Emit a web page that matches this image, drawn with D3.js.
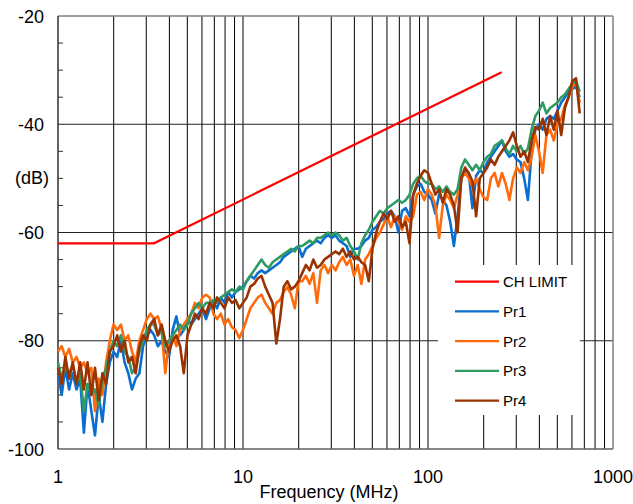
<!DOCTYPE html>
<html><head><meta charset="utf-8">
<script src="https://cdn.jsdelivr.net/npm/d3@7"></script>
<style>
body{margin:0;background:#fff}
svg{display:block}
text{font-family:"Liberation Sans",Arial,Helvetica,sans-serif;fill:#000}
</style>
</head><body>
<svg id="chart" width="633" height="504"></svg>
<script>
// ---- data ----
const freqMHz = [
1,1.047,1.096,1.148,1.202,1.259,1.318,1.380,1.445,1.514,
1.585,1.660,1.738,1.820,1.905,1.995,2.089,2.188,2.291,2.399,
2.512,2.630,2.754,2.884,3.020,3.162,3.311,3.467,3.631,3.802,
3.981,4.169,4.365,4.571,4.786,5.012,5.248,5.495,5.754,6.026,
6.310,6.607,6.918,7.244,7.586,7.943,8.318,8.710,9.120,9.550,
10,10.47,10.96,11.48,12.02,12.59,13.18,13.80,14.45,15.14,
15.85,16.60,17.38,18.20,19.05,19.95,20.89,21.88,22.91,23.99,
25.12,26.30,27.54,28.84,30.20,31.62,33.11,34.67,36.31,38.02,
39.81,41.69,43.65,45.71,47.86,50.12,52.48,54.95,57.54,60.26,
63.10,66.07,69.18,72.44,75.86,79.43,83.18,87.10,91.20,95.50,
100,104.7,109.6,114.8,120.2,125.9,131.8,138.0,144.5,151.4,
158.5,166.0,173.8,182.0,190.5,199.5,208.9,218.8,229.1,239.9,
251.2,263.0,275.4,288.4,302.0,316.2,331.1,346.7,363.1,380.2,
398.1,416.9,436.5,457.1,478.6,501.2,524.8,549.5,575.4,602.6,
631.0,660.7];

const pr1 = [
-86,-90,-85,-89,-86,-89,-87,-97,-88,-93,-97.5,-90,-95,-88,-84,-82,
-83,-80,-84,-86,-89,
-87,-86,-81,-79,-78,
-79,-81,-80,-82,-83,
-78,-75.5,-79,-78,-76,
-77,-76,-75,-74,-76,
-74,-73,-74,-72,-73,
-71,-72,-71,-70.5,-70,
-69,-68,-68.5,-67.5,-67,
-67.5,-67,-66.5,-66,-65.5,
-64.5,-64,-63.5,-63,-62.5,
-64.5,-63,-62.5,-62,-61.5,
-62,-61,-60.5,-61,-60.5,
-61.5,-62,-62.5,-64.5,-63,
-63,-62.5,-61.5,-61,-59.5,
-59,-58,-57.5,-56.5,-56,
-57,-60,-56,-55.5,-57,
-53,-51.5,-51,-52.5,-53,
-54,-56.5,-53,-54,-55,
-58,-62.5,-57,-50,-48.5,
-49,-55.5,-49.5,-48.5,-49,
-47,-46,-45,-44,-43,
-45,-46,-45.5,-46.5,-47,
-50,-54,-45,-41,-40,
-41,-39,-38.5,-39,-37.5,
-36,-35,-34,-33.5,-33,-35];

const pr2 = [
-82,-81,-83,-81.5,-84,-83,-85,-84,-86,-85,-93,-87,-90,-84,-80,-77,
-78,-77,-80,-79,-82,
-84,-80,-78,-76,-75,
-76,-75.5,-78,-86,-80,
-79,-81,-78,-77,-76,
-75,-73,-74,-72,-71.5,
-72,-75,-76,-75,-77,
-76,-77.5,-78,-79.5,-78,
-76,-74,-73,-72,-71.5,
-73,-74,-75,-73,-72.5,
-71,-70,-71.5,-74,-69,
-69,-68,-69.5,-67.5,-73,
-67,-66,-67.5,-66,-67,
-65.5,-64.5,-66,-65,-68,
-66,-69.5,-65,-64,-62.5,
-61,-60,-58.5,-57,-59,
-57,-58,-59.5,-57,-58,
-57,-53,-52.5,-54,-52,
-53,-55,-61,-55,-53,
-54,-55.5,-53,-50,-49,
-50,-51.5,-50,-52,-53.5,
-54,-50,-49,-51.5,-49,
-51,-54,-50,-48,-49,
-47,-48.5,-46,-42,-45,
-49,-42,-41,-43,-40,
-39,-36.5,-35,-33,-32.5,-36];

const pr3 = [
-84,-87,-85,-86,-84.5,-88,-86,-93,-88,-90,-89,-92,-87,-85,-82,-80,
-81,-79,-82,-83,-86,
-85,-82,-80,-78,-77,
-77,-79,-78,-81,-80,
-79,-78,-77,-78,-77,
-75,-74,-73,-74,-73,
-73,-72.5,-73,-72,-71.5,
-71,-70.5,-71,-70,-70.5,
-69,-68,-67,-66,-65,
-66,-66.5,-65.5,-65,-64.5,
-64,-63.5,-63,-63.5,-62.5,
-62.5,-62,-61.5,-62,-61,
-61,-60.5,-60,-60.5,-60,
-60.5,-61.5,-61,-62.5,-63.5,
-65,-62,-60.5,-59.5,-58,
-57,-56,-56.5,-55.5,-55,
-54.5,-54,-54.5,-54,-53,
-51,-50,-49.5,-50.5,-51,
-51,-52,-51.5,-52.5,-51.5,
-52.5,-53,-52,-48,-46.5,
-47.5,-48.5,-47.5,-48.5,-47,
-46,-45.5,-44,-43.5,-43,
-44.5,-45.5,-44,-45,-44,
-45.5,-44.5,-41,-38.5,-37.5,
-36,-38,-37,-36.5,-36,
-35,-34.5,-33.5,-32.5,-32,-34];

const pr4 = [
-85,-88,-83,-87,-84,-88,-84,-89,-84,-90,-85,-91,-86,-88,-82,-81,
-79,-82,-80,-84,-83,
-86,-81,-79,-80,-77,
-76,-79,-77,-80,-82,
-80,-79,-81,-86,-79,
-77,-75,-76,-74,-75,
-73,-74,-72,-73,-74,
-72,-73,-72.5,-74,-73,
-72,-70,-69.5,-68.5,-68,
-70,-71.5,-73,-80.5,-76,
-70,-69,-70.5,-70,-69,
-67.5,-66,-67,-65,-66.5,
-66,-65,-64.5,-64,-63.5,
-64,-63,-64.5,-63.5,-65,
-64.5,-65.5,-66,-69,-63,
-60,-58,-56.5,-57.5,-56,
-58,-57,-59,-58,-62,
-53,-51,-49.5,-48.5,-49,
-51,-53,-52,-54.5,-52,
-53,-55,-60,-50,-48,
-49,-50.5,-57,-50,-49,
-48,-46.5,-47.5,-46,-45,
-44,-43,-41.5,-44,-46,
-45,-47,-43,-40.5,-41,
-39,-42,-38.5,-41,-37.5,
-42,-37,-35,-32,-31.5,-38];

const limitFreq = [1, 3.3, 250];
const limitDb = [-62, -62, -30.4];

const seriesNames = ["Pr1", "Pr2", "Pr3", "Pr4"];
const seriesValues = [pr1, pr2, pr3, pr4];
const seriesColors = ["#0a6ed1", "#ff6a0a", "#2f9a62", "#9a3300"];
const limitName = "CH LIMIT";
const limitColor = "#ff0000";

const xTickLabels = [1, 10, 100, 1000];
const yTickLabels = [-100, -80, -60, -40, -20];
const xGridValues = [2,3,4,5,6,7,8,9,10,20,30,40,50,60,70,80,90,100,200,300,400,500,600,700,800,900];
const yGridValues = [-80, -60, -40];
const yMinorTicks = [-95,-90,-85,-75,-70,-65,-55,-50,-45,-35,-30,-25];

// ---- layout ----
const svg = d3.select("#chart");
const L = 58, R = 613, T = 16, B = 449;
const x = d3.scaleLog().domain([1, 1000]).range([L, R]);
const y = d3.scaleLinear().domain([-100, -20]).range([B, T]);

// grid
const g = svg.append("g");
g.selectAll("line.vg").data(xGridValues).join("line")
  .attr("x1", d => x(d)).attr("x2", d => x(d))
  .attr("y1", T).attr("y2", B)
  .attr("stroke", "#000").attr("stroke-width", 1);
g.selectAll("line.hg").data(yGridValues).join("line")
  .attr("x1", L).attr("x2", R)
  .attr("y1", d => y(d)).attr("y2", d => y(d))
  .attr("stroke", "#222").attr("stroke-width", 1);

// legend background (covers grid)
const legX = 438, legY = 265, legW = 142, legH = 150;
svg.append("rect").attr("x", legX).attr("y", legY).attr("width", legW).attr("height", legH).attr("fill", "#fff");

// frame
svg.append("line").attr("x1", L).attr("x2", R).attr("y1", T).attr("y2", T).attr("stroke", "#808080").attr("stroke-width", 1.5);
svg.append("line").attr("x1", R).attr("x2", R).attr("y1", T).attr("y2", B).attr("stroke", "#808080").attr("stroke-width", 1.5);
svg.append("line").attr("x1", L).attr("x2", R).attr("y1", B).attr("y2", B).attr("stroke", "#606060").attr("stroke-width", 1.5);
svg.append("line").attr("x1", L).attr("x2", L).attr("y1", T).attr("y2", B).attr("stroke", "#303030").attr("stroke-width", 1.5);

// minor y ticks
svg.selectAll("line.mt").data(yMinorTicks).join("line")
  .attr("x1", L).attr("x2", L + 5)
  .attr("y1", d => y(d)).attr("y2", d => y(d))
  .attr("stroke", "#303030").attr("stroke-width", 1);

// tick labels
svg.selectAll("text.yl").data(yTickLabels).join("text")
  .attr("x", 44).attr("y", d => y(d) + 6.5)
  .attr("text-anchor", "end").attr("font-size", 18)
  .text(d => d);
svg.selectAll("text.xl").data(xTickLabels).join("text")
  .attr("x", d => x(d)).attr("y", 483)
  .attr("text-anchor", "middle").attr("font-size", 18)
  .text(d => d);

svg.append("text").attr("x", 329).attr("y", 498).attr("text-anchor", "middle").attr("font-size", 18).text("Frequency (MHz)");
svg.append("text").attr("x", 32).attr("y", 184).attr("text-anchor", "middle").attr("font-size", 18).text("(dB)");

// series
const line = d3.line().x(d => x(d[0])).y(d => y(d[1]));
seriesValues.forEach((vals, k) => {
  const n = Math.min(vals.length, freqMHz.length);
  const pts = d3.range(n).map(i => [freqMHz[i], vals[i]]);
  svg.append("path").datum(pts)
    .attr("d", line)
    .attr("fill", "none")
    .attr("stroke", seriesColors[k])
    .attr("stroke-width", 2.6)
    .attr("stroke-linejoin", "round");
});

// limit
svg.append("path").datum(limitFreq.map((f, i) => [f, limitDb[i]]))
  .attr("d", line).attr("fill", "none")
  .attr("stroke", limitColor).attr("stroke-width", 2.2);

// legend
const legItems = [{name: limitName, color: limitColor}].concat(seriesNames.map((n, i) => ({name: n, color: seriesColors[i]})));
const lg = svg.append("g");
legItems.forEach((it, i) => {
  const ly = 281.7 + i * 29.75;
  lg.append("line").attr("x1", 455).attr("x2", 499).attr("y1", ly).attr("y2", ly)
    .attr("stroke", it.color).attr("stroke-width", 2.2);
  lg.append("text").attr("x", 503).attr("y", ly + 5.5).attr("font-size", 15).text(it.name);
});
</script>
</body></html>
